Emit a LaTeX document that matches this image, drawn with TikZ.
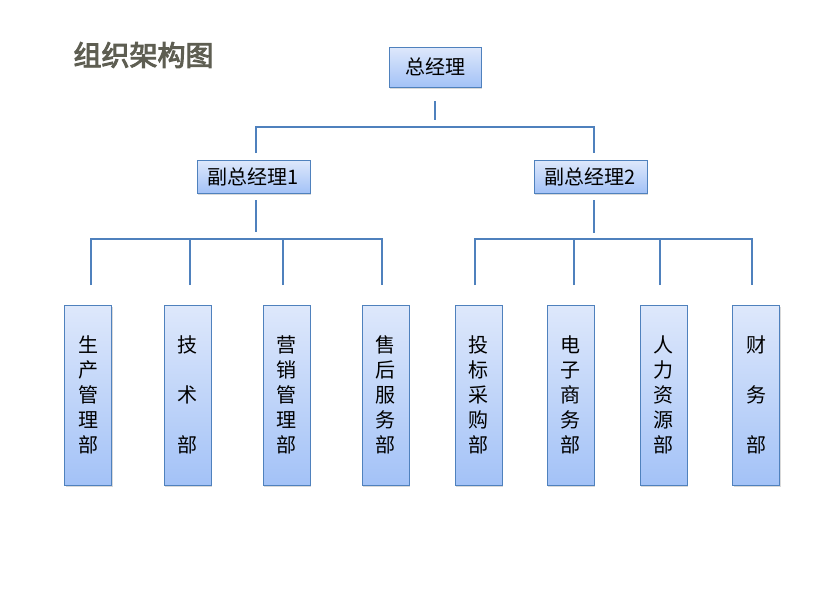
\documentclass[tikz,border=0pt]{standalone}
\usepackage{fontspec}
\setmainfont{Noto Sans CJK SC}
\newfontfamily\titelfont[FakeBold=3.5]{Noto Sans CJK SC}
\usepackage{tikz}
\usetikzlibrary{shadows}

\definecolor{linie}{RGB}{79,129,189}
\definecolor{oben}{RGB}{222,232,251}
\definecolor{unten}{RGB}{163,194,247}
\definecolor{titel}{RGB}{94,94,82}

\begin{document}
\begin{tikzpicture}[x = 1pt , y = -1pt ,
    kasten/.style = {draw = linie , line width = 1pt , top color = oben , bottom color = unten ,
        drop shadow = {shadow xshift = 1pt , shadow yshift = -2pt , opacity = 0.3} ,
        inner sep = 0pt , font = \fontsize{20}{25}\selectfont , align = center},
    abt/.style = {kasten , minimum width = 47pt , minimum height = 180pt},
    linie/.style = {draw = linie , line width = 1.3pt}]
    \useasboundingbox (0,0) rectangle (820,600);
    \node[titel , font = \titelfont\fontsize{28}{28}\selectfont , anchor = west] (titel) at (70,55) {组织架构图};
    % Leitung
    \node[kasten , minimum width = 92pt , minimum height = 40pt] (chef) at (435,67) {总经理};
    \node[kasten , minimum width = 113pt , minimum height = 33pt] (vize1) at (253.5,176.5) {副总经理1};
    \node[kasten , minimum width = 113pt , minimum height = 33pt] (vize2) at (590.5,176.5) {副总经理2};
    % Abteilungen
    \node[abt] (a1) at (88,395) {生\\产\\管\\理\\部};
    \node[abt] (a2) at (187.5,395) {技\\[25pt]术\\[25pt]部};
    \node[abt] (a3) at (286.5,395) {营\\销\\管\\理\\部};
    \node[abt] (a4) at (385.5,395) {售\\后\\服\\务\\部};
    \node[abt] (a5) at (478.5,395) {投\\标\\采\\购\\部};
    \node[abt] (a6) at (570.5,395) {电\\子\\商\\务\\部};
    \node[abt] (a7) at (663.5,395) {人\\力\\资\\源\\部};
    \node[abt] (a8) at (756,395) {财\\[25pt]务\\[25pt]部};
    % Punkte der Linien
    \coordinate (c0) at (435,101);
    \coordinate (c1) at (435,120);
    \coordinate (v1o) at (256,153);
    \coordinate (v2o) at (594,153);
    \coordinate (v1u) at (256,200);
    \coordinate (v1m) at (256,232);
    \coordinate (v2u) at (594,200);
    \coordinate (v2m) at (594,233);
    \foreach \n/\x in {1/91,2/190,3/283,4/382,5/475,6/574,7/660,8/752}
        \coordinate (s\n) at (\x,285);
    % Linien
    \draw[linie] (c0) -- (c1);
    \draw[linie] (v1o) |- (v2o |- 0,127) -- (v2o);
    \draw[linie] (v1u) -- (v1m);
    \draw[linie] (v2u) -- (v2m);
    \draw[linie] (s1) |- (s4 |- 0,239) -- (s4);
    \draw[linie] (s5) |- (s8 |- 0,239) -- (s8);
    \foreach \n in {2,3,6,7}
        \draw[linie] (s\n) -- (s\n |- 0,239);
\end{tikzpicture}
\end{document}
